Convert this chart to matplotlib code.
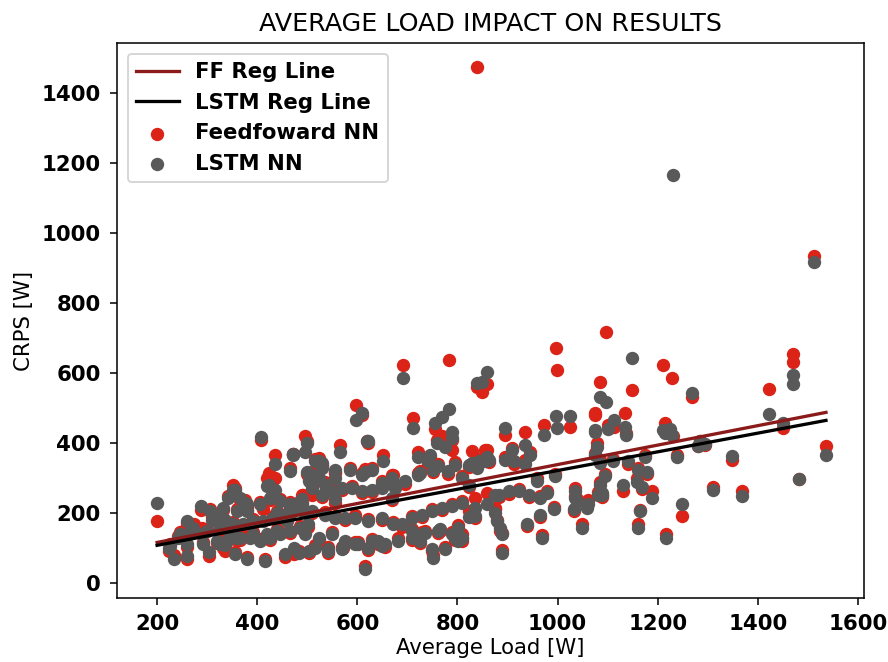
import numpy as np
import matplotlib
matplotlib.use("Agg")
import matplotlib.pyplot as plt

# average load [W] for each sample (shared by both models)
load = [1211, 1229, 1269, 1224, 1238, 1284, 1281, 1294, 1348, 1311,
        1368, 1248, 1216, 1422, 1451, 1471, 1471, 1536, 1483, 1513,
        1230, 839, 1096, 998, 996, 1149, 859, 1085, 1075, 1113,
        1135, 1136, 1025, 1078, 972, 895, 935, 859, 895, 912,
        908, 935, 945, 958, 995, 978, 922, 942, 965, 882,
        965, 992, 875, 878, 885, 889, 938, 968, 1035, 1038,
        1032, 1058, 1048, 1075, 1085, 1095, 1111, 1141, 1161, 1178,
        1131, 1168, 1189, 1158, 1175, 1165, 1161, 1085, 1088, 1081,
        1215, 691, 784, 839, 711, 755, 769, 790, 759, 775,
        789, 622, 652, 721, 745, 725, 752, 672, 629, 649,
        629, 829, 855, 835, 809, 902, 875, 888, 802, 809,
        835, 1035, 1061, 1101, 1075, 1088, 616, 649, 669, 672,
        689, 709, 725, 749, 752, 775, 735, 765, 795, 616,
        598, 609, 619, 566, 586, 556, 408, 435, 471, 495,
        499, 466, 423, 436, 523, 529, 503, 499, 355, 342,
        366, 376, 200, 288, 260, 273, 290, 310, 323, 336,
        226, 233, 260, 223, 303, 356, 379, 416, 456, 483,
        503, 336, 473, 542, 572, 596, 849, 516, 529, 556,
        609, 649, 669, 509, 523, 536, 509, 529, 549, 569,
        589, 609, 489, 556, 676, 696, 722, 742, 762, 782,
        795, 822, 842, 862, 859, 809, 822, 489, 509, 536,
        556, 576, 596, 622, 649, 709, 729, 749, 769, 789,
        496, 523, 549, 576, 602, 629, 656, 682, 709, 729,
        762, 789, 802, 809, 822, 642, 516, 542, 569, 622,
        649, 306, 332, 359, 379, 405, 425, 445, 465, 485,
        299, 326, 352, 372, 392, 412, 432, 452, 472, 492,
        292, 319, 339, 359, 385, 405, 425, 445, 465, 485,
        502, 332, 439, 459, 259, 272, 246, 472, 419, 429,
        352, 465, 379, 346, 366, 392, 419, 439, 326, 259,
        242]

# CRPS [W] of the feedforward network
ff_crps = [623, 585, 533, 433, 366, 405, 391, 395, 353, 274,
           264, 192, 140, 556, 443, 656, 632, 393, 298, 935,
           420, 1475, 717, 608, 672, 551, 570, 575, 485, 447,
           485, 430, 447, 400, 452, 424, 433, 381, 360, 342,
           386, 353, 375, 300, 312, 263, 270, 245, 250, 246,
           190, 218, 215, 180, 149, 95, 163, 139, 272, 240,
           205, 225, 168, 373, 353, 312, 355, 342, 330, 312,
           263, 268, 263, 300, 367, 210, 168, 290, 252, 260,
           457, 623, 637, 560, 471, 440, 420, 410, 409, 395,
           381, 400, 367, 376, 360, 322, 318, 310, 330, 292,
           260, 378, 381, 244, 236, 256, 211, 144, 165, 121,
           185, 250, 239, 452, 480, 246, 326, 279, 238, 175,
           162, 156, 115, 92, 80, 103, 150, 148, 123, 49,
           509, 480, 405, 395, 330, 319, 410, 367, 369, 422,
           405, 328, 315, 300, 357, 335, 297, 312, 273, 250,
           239, 239, 179, 210, 163, 168, 158, 190, 200, 176,
           112, 80, 70, 92, 78, 90, 75, 70, 76, 93,
           86, 92, 83, 103, 100, 117, 545, 355, 337, 315,
           316, 276, 310, 317, 294, 289, 253, 246, 270, 266,
           279, 257, 253, 229, 279, 284, 316, 341, 340, 313,
           345, 331, 355, 345, 258, 307, 275, 232, 200, 203,
           193, 181, 194, 183, 180, 193, 190, 213, 208, 227,
           147, 124, 146, 115, 118, 127, 105, 128, 124, 147,
           143, 147, 127, 140, 206, 111, 108, 86, 103, 96,
           112, 212, 208, 213, 219, 232, 238, 241, 231, 227,
           155, 152, 174, 162, 183, 211, 193, 190, 212, 253,
           117, 115, 127, 124, 136, 127, 124, 146, 143, 164,
           162, 102, 206, 184, 171, 164, 146, 370, 300, 290,
           280, 220, 210, 146, 124, 146, 134, 155, 117, 105,
           136]

# CRPS [W] of the LSTM network
lstm_crps = [438, 424, 542, 440, 362, 405, 391, 398, 364, 265,
             248, 227, 130, 482, 457, 594, 568, 367, 298, 918,
             1165, 330, 518, 444, 479, 643, 604, 532, 438, 466,
             447, 424, 479, 390, 424, 444, 395, 362, 353, 350,
             380, 340, 367, 291, 305, 258, 264, 253, 244, 253,
             196, 211, 201, 177, 158, 87, 168, 130, 263, 234,
             211, 215, 158, 367, 343, 305, 348, 348, 324, 319,
             282, 274, 244, 290, 360, 206, 158, 282, 258, 253,
             430, 587, 498, 573, 443, 457, 476, 433, 400, 390,
             414, 405, 350, 360, 367, 315, 324, 290, 324, 286,
             267, 343, 348, 215, 229, 263, 253, 140, 158, 130,
             192, 244, 225, 440, 433, 253, 319, 272, 244, 168,
             168, 149, 121, 97, 73, 97, 144, 154, 130, 40,
             466, 485, 405, 376, 324, 300, 419, 340, 369, 374,
             400, 321, 282, 267, 348, 329, 291, 319, 267, 244,
             244, 230, 228, 222, 140, 150, 140, 182, 192, 182,
             106, 69, 78, 100, 90, 83, 69, 64, 83, 87,
             92, 110, 100, 97, 106, 111, 575, 348, 343, 324,
             310, 282, 300, 310, 300, 282, 272, 253, 263, 272,
             272, 263, 240, 240, 272, 291, 310, 348, 334, 320,
             338, 338, 348, 352, 225, 300, 282, 225, 206, 196,
             187, 187, 187, 177, 187, 187, 196, 206, 215, 220,
             140, 130, 140, 121, 111, 121, 111, 121, 130, 140,
             149, 140, 121, 130, 190, 120, 102, 92, 97, 102,
             106, 206, 215, 206, 225, 225, 244, 234, 225, 234,
             149, 158, 168, 168, 177, 177, 187, 196, 206, 206,
             111, 121, 121, 130, 130, 121, 130, 140, 149, 158,
             168, 115, 200, 177, 177, 158, 140, 367, 277, 267,
             267, 215, 206, 140, 130, 140, 140, 149, 111, 111,
             130]

# regression line coefficients (slope, intercept)
ff_reg = [0.278, 61.0]
lstm_reg = [0.267, 55.0]

x = np.array(load, dtype=float)
ff = np.array(ff_crps, dtype=float)
ls = np.array(lstm_crps, dtype=float)
xr = np.sort(x)

plt.rcParams['font.size'] = 11

fig = plt.figure(figsize=(888/138.75, 662/138.75), dpi=138.75)
ax = fig.add_axes([0.1318, 0.0967, 0.8412, 0.8384])

ax.plot(xr, np.polyval(ff_reg, xr), color='#8b1a1a', lw=1.7, label='FF Reg Line')
ax.plot(xr, np.polyval(lstm_reg, xr), color='black', lw=1.7, label='LSTM Reg Line')
ax.scatter(x, ff, s=48, color='#dc2318', linewidths=0, label='Feedfoward NN')
ax.scatter(x, ls, s=48, color='#595959', linewidths=0, label='LSTM NN')

ax.set_xlim(120, 1612)
ax.set_ylim(-42, 1543)
ax.set_title("AVERAGE LOAD IMPACT ON RESULTS", fontsize=13.2)
ax.set_xlabel("Average Load [W]", labelpad=2)
ax.set_ylabel("CRPS [W]")
ax.set_xticks([200, 400, 600, 800, 1000, 1200, 1400, 1600])
ax.set_yticks([0, 200, 400, 600, 800, 1000, 1200, 1400])
ax.tick_params(pad=5)
for t in ax.get_xticklabels() + ax.get_yticklabels():
    t.set_fontweight('bold')
ax.legend(loc='upper left', prop={'weight': 'bold', 'size': 11})

fig.savefig("out.png", dpi=138.75)
